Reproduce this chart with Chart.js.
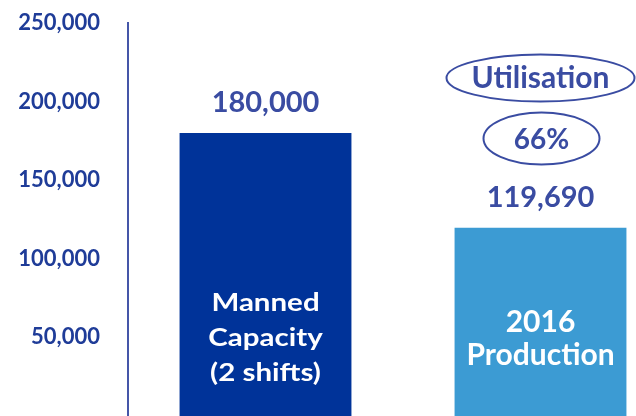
<!DOCTYPE html>
<html><head><meta charset="utf-8">
<script src="https://cdn.jsdelivr.net/npm/chart.js@4/dist/chart.umd.min.js"></script>
<style>
html,body{margin:0;padding:0;background:#fff;overflow:hidden;width:636px;height:416px;}
#wrap{position:relative;width:636px;height:416px;overflow:hidden;}
#c{position:absolute;left:0;top:0;}
</style></head>
<body>
<div id="wrap"><canvas id="c" width="690" height="416"></canvas></div>
<script>
const categories = ["Manned Capacity (2 shifts)", "2016 Production"];
const barLines = [["Manned", "Capacity", "(2 shifts)"], ["2016", "Production"]];
const values = [180000, 119690];
const valueLabels = ["180,000", "119,690"];
const utilisationTitle = "Utilisation";
const utilisationValue = "66%";
const yTicks = [0, 50000, 100000, 150000, 200000, 250000];

const textColor = '#3a4ca2';

function stretchText(ctx, t, x, y, sx) {
  ctx.save();
  ctx.translate(x, y);
  ctx.scale(sx, 1);
  ctx.fillText(t, 0, 0);
  ctx.restore();
}

const labelPlugin = {
  id: 'labels',
  afterDraw(chart) {
    const ctx = chart.ctx;
    const meta = chart.getDatasetMeta(0);
    ctx.save();
    ctx.textAlign = 'center';
    ctx.textBaseline = 'middle';
    meta.data.forEach((bar, i) => {
      ctx.fillStyle = textColor;
      ctx.font = '700 29px Lato';
      ctx.fillText(valueLabels[i], bar.x, bar.y - 30);
    });
    // inside labels
    const b0 = meta.data[0], b1 = meta.data[1];
    ctx.fillStyle = '#ffffff';
    ctx.font = '700 25px Lato';
    [303, 338, 373].forEach((y, k) => stretchText(ctx, barLines[0][k], b0.x, y, 1.18));
    ctx.font = '700 30px Lato';
    [322, 355].forEach((y, k) => ctx.fillText(barLines[1][k], b1.x, y));
    // utilisation ellipses
    ctx.strokeStyle = textColor;
    ctx.lineWidth = 2;
    ctx.beginPath();
    ctx.ellipse(b1.x, 78, 94, 23.5, 0, 0, Math.PI * 2);
    ctx.stroke();
    ctx.beginPath();
    ctx.ellipse(b1.x + 1, 138.5, 58, 26, 0, 0, Math.PI * 2);
    ctx.stroke();
    ctx.fillStyle = textColor;
    ctx.font = '700 30px Lato';
    ctx.fillText(utilisationTitle, b1.x, 78);
    ctx.font = '700 28px Lato';
    ctx.fillText(utilisationValue, b1.x + 1, 140);
    ctx.restore();
  }
};

new Chart(document.getElementById('c'), {
  type: 'bar',
  data: {
    labels: categories,
    datasets: [{
      data: values,
      backgroundColor: ['#003399', '#3c9bd3'],
      barPercentage: 0.625,
      categoryPercentage: 1.0,
      borderWidth: 0
    }]
  },
  options: {
    responsive: false,
    animation: false,
    layout: { padding: { top: 23, right: 12, left: 0, bottom: 0 } },
    plugins: { legend: { display: false }, tooltip: { enabled: false } },
    scales: {
      x: { display: false },
      y: {
        min: 0, max: 250000,
        afterBuildTicks(axis) { axis.ticks = yTicks.map(v => ({ value: v })); },
        afterFit(axis) { axis.width = 128; axis.paddingTop = 0; axis.paddingBottom = 0; },
        grid: { display: false, drawTicks: false },
        border: { display: true, color: '#4556a8', width: 2 },
        ticks: {
          padding: 28,
          color: '#1f3c98',
          font: { family: 'Lato', weight: '700', size: 22 },
          callback: v => v === 0 ? '' : v.toLocaleString('en-US')
        }
      }
    }
  },
  plugins: [labelPlugin]
});
</script>
</body></html>
